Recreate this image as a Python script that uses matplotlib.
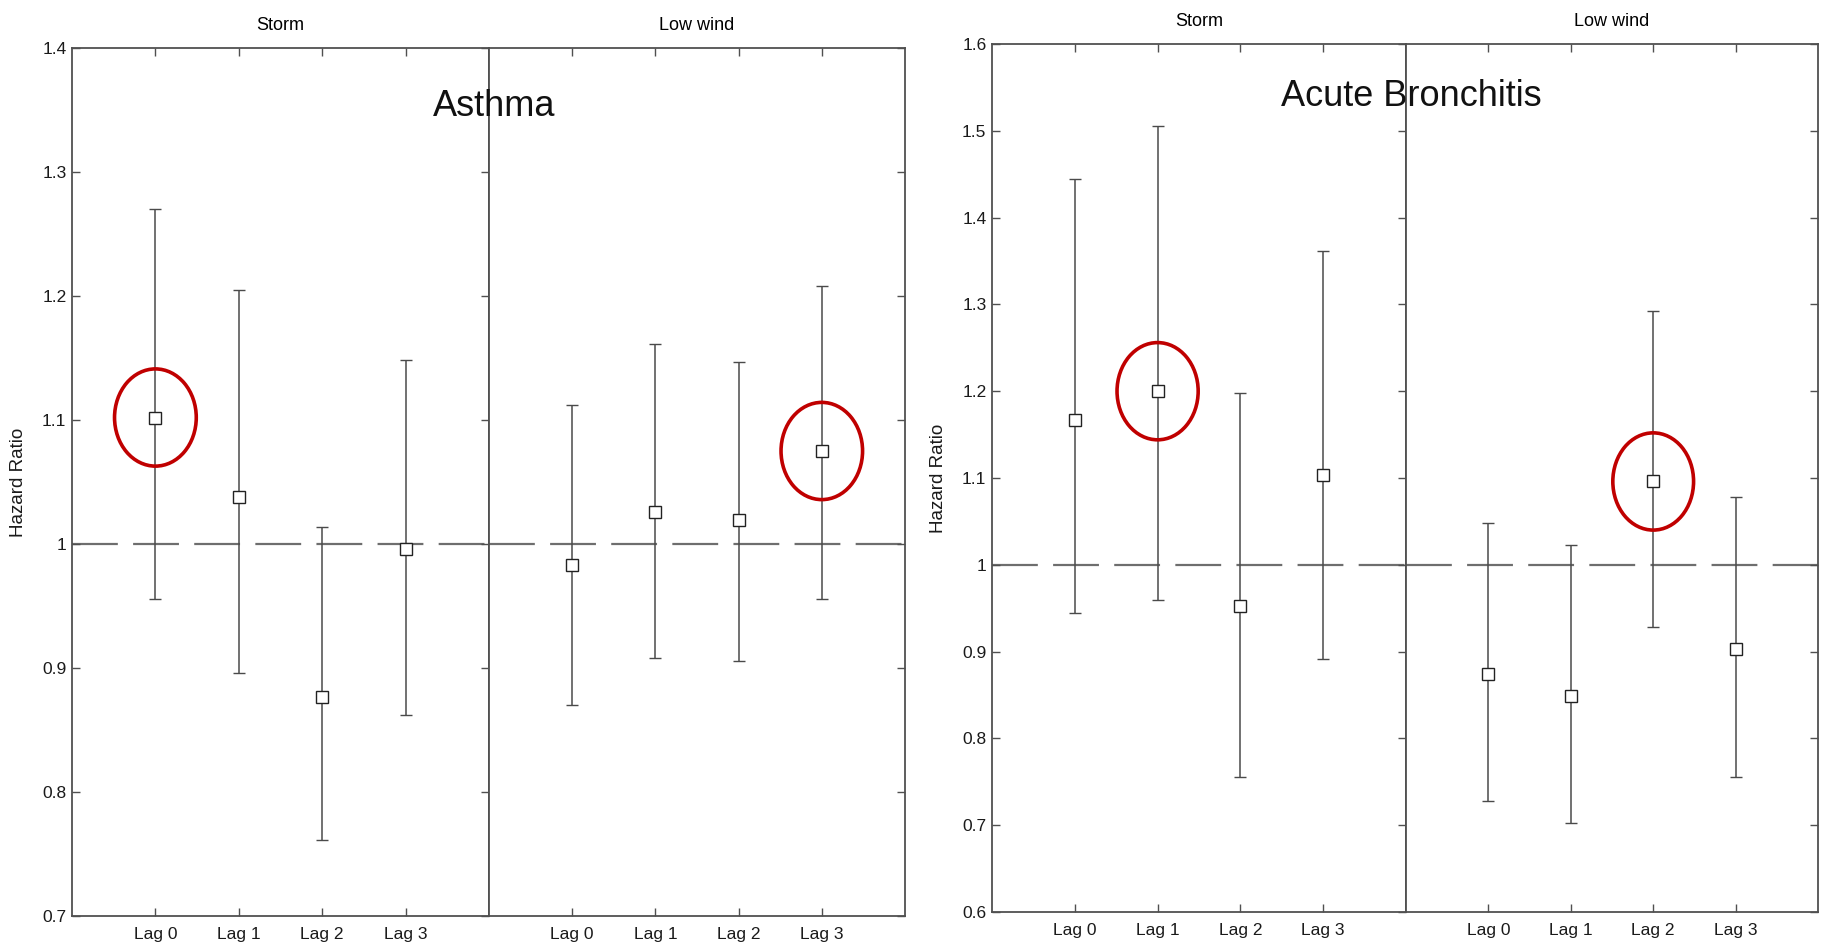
import numpy as np
import matplotlib.pyplot as plt
from matplotlib.patches import Ellipse

plt.rcParams['font.family'] = ['Liberation Sans', 'DejaVu Sans']
plt.rcParams['lines.scale_dashes'] = False

lags = ['Lag 0', 'Lag 1', 'Lag 2', 'Lag 3']
panel_names = ['Storm', 'Low wind']

# Asthma: hazard ratio and 95% CI, per lag
asthma_storm_hr = [1.102, 1.038, 0.877, 0.996]
asthma_storm_lo = [0.956, 0.896, 0.761, 0.862]
asthma_storm_hi = [1.270, 1.205, 1.014, 1.148]
asthma_wind_hr = [0.983, 1.026, 1.019, 1.075]
asthma_wind_lo = [0.870, 0.908, 0.906, 0.956]
asthma_wind_hi = [1.112, 1.161, 1.147, 1.208]

# Acute bronchitis
bronch_storm_hr = [1.167, 1.200, 0.953, 1.103]
bronch_storm_lo = [0.945, 0.959, 0.756, 0.891]
bronch_storm_hi = [1.444, 1.505, 1.198, 1.362]
bronch_wind_hr = [0.874, 0.849, 1.096, 0.903]
bronch_wind_lo = [0.728, 0.703, 0.928, 0.756]
bronch_wind_hi = [1.048, 1.023, 1.292, 1.078]

# lag index that is circled in red (storm panel, low wind panel)
asthma_circled = [0, 3]
bronch_circled = [1, 2]

asthma_yticks = [0.7, 0.8, 0.9, 1.0, 1.1, 1.2, 1.3, 1.4]
bronch_yticks = [0.6, 0.7, 0.8, 0.9, 1.0, 1.1, 1.2, 1.3, 1.4, 1.5, 1.6]

FRAME = '#505050'


def draw_panel(ax, hr, lo, hi, title, yticks, circled, first):
    x = np.arange(1, len(hr) + 1)
    hr = np.array(hr)
    lo = np.array(lo)
    hi = np.array(hi)
    ymin, ymax = yticks[0], yticks[-1]

    # reference line at HR = 1
    ax.axhline(1.0, color='#6e6e6e', lw=1.6, dashes=(33, 11), zorder=1)

    ax.errorbar(x, hr, yerr=[hr - lo, hi - hr], fmt='s', ms=9,
                mfc='white', mec='#222222', mew=1.0,
                ecolor='#4a4a4a', elinewidth=1.1, capsize=4, capthick=1.0,
                zorder=3)

    # red circle around the highlighted estimate
    if circled is not None:
        h = 0.112 * (ymax - ymin)
        ax.add_patch(Ellipse((x[circled], hr[circled]), width=0.98, height=h,
                             fill=False, edgecolor='#c00000', lw=2.6,
                             zorder=4))

    ax.set_xlim(0, len(hr) + 1)
    ax.set_ylim(ymin, ymax)
    ax.set_xticks(x)
    ax.set_xticklabels(lags)
    ax.set_yticks(yticks)
    ax.set_yticklabels([f'{v:g}' for v in yticks])
    ax.set_title(title, fontsize=13, pad=13)

    for s in ax.spines.values():
        s.set_color(FRAME)
        s.set_linewidth(1.3)

    ax.tick_params(axis='both', direction='in', length=6, width=1.0,
                   colors=FRAME, labelcolor='#1a1a1a', labelsize=12.5,
                   top=True, right=True)
    ax.tick_params(axis='x', pad=8)
    ax.tick_params(axis='y', pad=4)

    if first:
        ax.set_ylabel('Hazard Ratio', fontsize=13.5, color='#1a1a1a')
        ax.yaxis.set_label_coords(-0.108, 0.5)
    else:
        ax.tick_params(axis='y', left=False, labelleft=False)


fig = plt.figure(figsize=(18.25, 9.47), dpi=100)
W, H = 1825.0, 947.0


def add_axes_px(x0, x1, y_top, y_bot):
    return fig.add_axes([x0 / W, 1 - y_bot / H, (x1 - x0) / W, (y_bot - y_top) / H])


# Asthma
ax1 = add_axes_px(72, 489, 48, 916)
ax2 = add_axes_px(489, 905, 48, 916)
draw_panel(ax1, asthma_storm_hr, asthma_storm_lo, asthma_storm_hi,
           panel_names[0], asthma_yticks, asthma_circled[0], True)
draw_panel(ax2, asthma_wind_hr, asthma_wind_lo, asthma_wind_hi,
           panel_names[1], asthma_yticks, asthma_circled[1], False)

# Acute bronchitis
ax3 = add_axes_px(992, 1406, 44, 912)
ax4 = add_axes_px(1406, 1818, 44, 912)
draw_panel(ax3, bronch_storm_hr, bronch_storm_lo, bronch_storm_hi,
           panel_names[0], bronch_yticks, bronch_circled[0], True)
draw_panel(ax4, bronch_wind_hr, bronch_wind_lo, bronch_wind_hi,
           panel_names[1], bronch_yticks, bronch_circled[1], False)

fig.text(494 / W, 1 - 107 / H, 'Asthma', fontsize=26, ha='center', va='center',
         color='#111111')
fig.text(1411 / W, 1 - 96 / H, 'Acute Bronchitis', fontsize=26, ha='center',
         va='center', color='#111111')

fig.savefig('out.png', dpi=100, facecolor='white')
